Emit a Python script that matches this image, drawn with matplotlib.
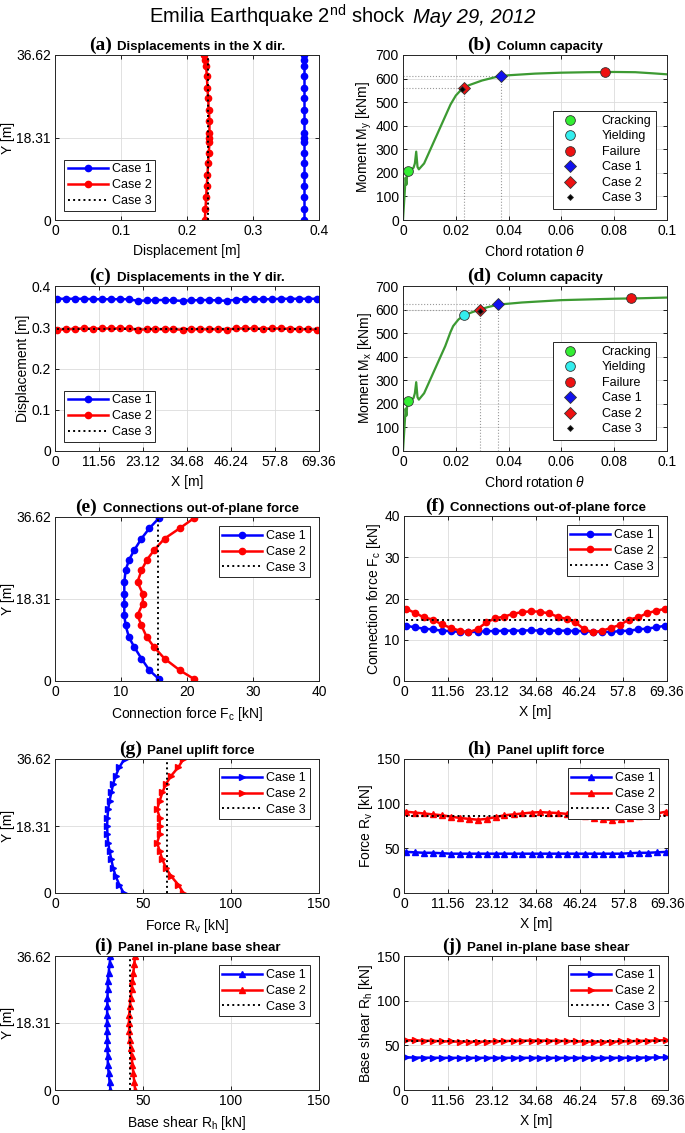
import matplotlib
matplotlib.use('Agg')
import matplotlib.pyplot as plt
from matplotlib.offsetbox import TextArea, HPacker, AnchoredOffsetbox

plt.rcParams['font.family'] = ['Liberation Sans', 'DejaVu Sans']
plt.rcParams['mathtext.fontset'] = 'custom'
plt.rcParams['mathtext.rm'] = 'Liberation Sans'
plt.rcParams['mathtext.it'] = 'Liberation Sans:italic'
plt.rcParams['mathtext.bf'] = 'Liberation Sans:bold'

# ---- data ----
y_ticks = [0, 18.31, 36.62]
x_ticks = [0, 11.56, 23.12, 34.68, 46.24, 57.8, 69.36]

# (a) displacements in X dir
ya = [0, 2.4, 5.0, 7.6, 10.0, 12.6, 14.8, 17.4, 18.3, 19.4, 22.0, 24.4, 27.0, 29.4, 32.0, 34.2, 35.6, 36.62]
a_case1 = [0.378] * 18
a_case2 = [0.227, 0.228, 0.229, 0.230, 0.231, 0.232, 0.233, 0.234, 0.234, 0.234,
           0.234, 0.233, 0.232, 0.231, 0.230, 0.229, 0.227, 0.226]
a_case3 = [0.232, 0.232]

# stations along X
xs = [0.6, 2.9, 5.3, 7.6, 10.0, 12.3, 14.7, 17.0, 19.4, 21.7, 24.1, 26.4, 28.8, 31.1, 33.5,
      35.8, 38.2, 40.5, 42.9, 45.2, 47.6, 49.9, 52.3, 54.6, 57.0, 59.3, 61.7, 64.0, 66.4, 68.8]

# (c) displacements in Y dir
c_case1 = [0.369, 0.369, 0.369, 0.369, 0.368, 0.368, 0.368, 0.368, 0.368, 0.364,
           0.365, 0.366, 0.366, 0.365, 0.364, 0.365, 0.366, 0.366, 0.365, 0.364,
           0.367, 0.368, 0.368, 0.368, 0.368, 0.369, 0.369, 0.369, 0.369, 0.369]
c_case2 = [0.294, 0.295, 0.296, 0.297, 0.296, 0.297, 0.297, 0.297, 0.297, 0.294,
           0.295, 0.295, 0.295, 0.295, 0.294, 0.295, 0.295, 0.295, 0.295, 0.294,
           0.297, 0.297, 0.297, 0.296, 0.297, 0.297, 0.296, 0.295, 0.295, 0.294]
c_case3 = [0.295, 0.295]

# (b) column capacity, My
theta_b = [0, 0.0005, 0.001, 0.0013, 0.0016, 0.002, 0.003, 0.004, 0.0045, 0.005, 0.0055,
           0.006, 0.008, 0.010, 0.012, 0.014, 0.016, 0.018, 0.020, 0.022, 0.025, 0.030,
           0.035, 0.040, 0.050, 0.060, 0.070, 0.080, 0.088, 0.095, 0.100]
mom_b = [0, 90, 180, 150, 195, 208, 212, 222, 240, 290, 225, 215, 240, 290, 340, 390,
         440, 490, 528, 552, 572, 592, 606, 614, 621, 625, 627, 628, 627, 622, 618]
b_crack = (0.002, 210)
b_fail = (0.0765, 628)
b_case1 = (0.037, 610)
b_case2 = (0.023, 562)
b_case3 = (0.0225, 557)

# (d) column capacity, Mx
theta_d = [0, 0.0005, 0.001, 0.0013, 0.0016, 0.002, 0.003, 0.004, 0.0045, 0.005, 0.0055,
           0.006, 0.008, 0.010, 0.012, 0.014, 0.016, 0.018, 0.019, 0.021, 0.023, 0.026,
           0.029, 0.032, 0.036, 0.045, 0.060, 0.070, 0.080, 0.090, 0.100]
mom_d = [0, 90, 180, 150, 195, 210, 214, 225, 245, 292, 228, 218, 245, 295, 345, 395,
         445, 505, 530, 558, 575, 588, 600, 610, 621, 630, 640, 643, 646, 648, 651]
d_crack = (0.002, 212)
d_yield = (0.023, 575)
d_fail = (0.0865, 648)
d_case1 = (0.036, 622)
d_case2 = (0.029, 600)
d_case3 = (0.029, 596)

# (e) connections out-of-plane force vs Y
ye = [0.5, 2.4, 5.0, 7.6, 9.8, 12.4, 14.7, 17.3, 19.5, 22.1, 24.7, 27.0, 29.2, 31.8, 34.1, 36.3]
e_case1 = [15.7, 14.3, 13.1, 12.0, 11.2, 10.7, 10.5, 10.5, 10.5, 10.5, 10.7, 11.2, 12.0, 13.1, 14.3, 15.7]
e_case2 = [21.0, 18.9, 16.6, 15.0, 13.9, 13.1, 12.5, 13.3, 13.3, 12.5, 13.1, 13.9, 15.0, 16.6, 18.9, 21.0]
e_case3 = [15.6, 15.6]

# (f) connections out-of-plane force vs X
f_case1 = [13.4, 13.0, 12.7, 12.5, 12.2, 12.1, 11.9, 11.9, 11.9, 12.1, 12.1, 12.2, 12.2, 12.2, 12.3,
           12.2, 12.2, 12.2, 12.2, 12.1, 12.1, 11.9, 11.9, 11.9, 12.1, 12.2, 12.5, 12.7, 13.0, 13.4]
f_case2 = [17.5, 16.5, 15.4, 14.9, 13.7, 12.9, 12.2, 11.8, 12.6, 14.2, 15.2, 15.6, 16.3, 16.7, 16.9,
           16.8, 16.4, 15.6, 15.0, 14.2, 12.5, 11.8, 12.2, 12.9, 13.6, 14.9, 15.4, 16.4, 17.0, 17.5]
f_case3 = [14.7, 14.7]

# Y stations for (g), (i)
yg = [0, 2.29, 4.58, 6.87, 9.16, 11.44, 13.73, 16.02, 18.31, 20.60, 22.89, 25.18, 27.47,
      29.75, 32.04, 34.33, 36.62]

# (g) panel uplift force vs Y
g_case1 = [39.0, 36.5, 34.5, 33.0, 32.0, 31.0, 30.2, 29.8, 29.6, 29.8, 30.2, 31.0, 32.0, 33.0, 34.5, 36.5, 39.5]
g_case2 = [73.0, 70.0, 66.0, 63.0, 61.0, 59.5, 58.0, 59.5, 59.5, 59.5, 58.0, 59.5, 61.0, 63.0, 66.0, 70.0, 73.0]
g_case3 = [63.5, 63.5]

# (h) panel uplift force vs X
h_case1 = [46, 45.5, 45, 45, 44.5, 44, 44, 44, 44, 44, 44, 44, 44, 44, 44,
           44, 44, 44, 44, 44, 44, 44, 44, 44, 44, 44.5, 45, 45, 45.5, 46]
h_case2 = [91, 90, 89, 88, 87, 85.5, 84, 83, 82, 83, 85, 87, 88, 89, 90,
           90.5, 90, 89.5, 88.5, 87.5, 86, 84, 82.5, 82, 83, 84.5, 86, 88, 89, 91]
h_case3 = [86.5, 86.5]

# (i) panel in-plane base shear vs Y
i_case1 = [31.5, 31.0, 30.5, 30.0, 30.0, 29.8, 29.7, 29.6, 29.6, 29.6, 29.7, 29.8, 30.0, 30.0, 30.5, 31.0, 31.5]
i_case2 = [45.5, 45.0, 44.5, 44.0, 43.5, 43.0, 42.5, 42.2, 42.0, 42.2, 42.5, 43.0, 43.5, 44.0, 44.5, 45.0, 45.5]
i_case3 = [42.8, 42.8]

# (j) panel in-plane base shear vs X
j_case1 = [36.5, 36.3, 36.2, 36.1, 36, 36, 36, 36, 36, 36, 36, 36, 36, 36, 36,
           36, 36, 36, 36, 36, 36, 36, 36, 36, 36, 36.1, 36.2, 36.3, 36.4, 36.5]
j_case2 = [55.8, 55.5, 55.2, 55.0, 54.6, 54.3, 54.1, 54.0, 54.0, 54.2, 54.5, 54.8, 55.0, 55.2, 55.3,
           55.3, 55.2, 55.0, 54.8, 54.5, 54.2, 54.0, 54.0, 54.1, 54.3, 54.6, 55.0, 55.2, 55.5, 55.8]
j_case3 = [54.8, 54.8]

# ---- drawing ----
W, H = 685, 1133
fig = plt.figure(figsize=(W / 100, H / 100), dpi=100)

BLUE, RED = '#0000ff', '#ff0000'
GREEN_LINE = '#3c9a32'
FS = 10      # ticks and axis labels
LFS = 9      # legend


def make_ax(l, t, r, b):
    ax = fig.add_axes([l / W, 1 - b / H, (r - l) / W, (b - t) / H])
    ax.grid(True, color='#dcdcdc', lw=0.6)
    ax.set_axisbelow(True)
    for s in ax.spines.values():
        s.set_linewidth(0.7)
        s.set_color('#262626')
    ax.tick_params(direction='in', length=3, width=0.6, labelsize=FS, top=True, right=True, pad=3)
    return ax


def panel_title(ax, letter, text):
    box = HPacker(children=[
        TextArea(letter, textprops=dict(family='Liberation Serif', weight='bold', size=14)),
        TextArea(text, textprops=dict(weight='bold', size=9.5))],
        align='baseline', pad=0, sep=4)
    ab = AnchoredOffsetbox(loc='lower center', child=box, pad=0, frameon=False,
                           bbox_to_anchor=(0.5, 1.0), bbox_transform=ax.transAxes, borderpad=0.1)
    ax.add_artist(ab)


def legend(ax, loc):
    lg = ax.legend(loc=loc, fontsize=LFS, fancybox=False, edgecolor='#262626', framealpha=1,
                   handlelength=3.2, borderpad=0.3, labelspacing=0.3, handletextpad=0.3,
                   borderaxespad=0.75)
    lg.get_frame().set_linewidth(0.7)


lw = 1.8
ms = 4.5

# (a)
ax = make_ax(55, 55, 319, 220)
ax.plot(a_case1, ya, '-o', color=BLUE, lw=lw, ms=ms, label='Case 1')
ax.plot(a_case2, ya, '-o', color=RED, lw=lw, ms=ms, label='Case 2')
ax.plot(a_case3, [ya[0], ya[-1]], ':', color='k', lw=1.4, label='Case 3')
ax.set_xlim(0, 0.4)
ax.set_ylim(0, 36.62)
ax.set_yticks(y_ticks)
ax.set_yticklabels(['0', '18.31', '36.62'])
ax.set_xticks([0, 0.1, 0.2, 0.3, 0.4])
ax.set_xticklabels(['0', '0.1', '0.2', '0.3', '0.4'])
ax.set_xlabel('Displacement [m]', fontsize=FS)
ax.set_ylabel('Y [m]', fontsize=FS, labelpad=1)
panel_title(ax, '(a)', 'Displacements in the X dir.')
legend(ax, 'lower left')


def capacity(ax, letter, theta, mom, crack, yld, fail, c1, c2, c3, mlabel):
    ax.plot(theta, mom, '-', color=GREEN_LINE, lw=1.6, zorder=2)
    for c in (c1, c2):
        ax.plot([c[0], c[0]], [0, c[1]], ':', color='#999999', lw=0.8, zorder=1)
        ax.plot([0, c[0]], [c[1], c[1]], ':', color='#999999', lw=0.8, zorder=1)
    mk = dict(ls='none', mec='#333333', mew=0.6, zorder=3)
    ax.plot(*crack, 'o', color='#33ee33', ms=7, label='Cracking', **mk)
    if yld is not None:
        ax.plot(*yld, 'o', color='#33eeee', ms=7, label='Yielding', **mk)
    else:
        ax.plot([], [], 'o', color='#33eeee', ms=7, label='Yielding', **mk)
    ax.plot(*fail, 'o', color='#ee1111', ms=7, label='Failure', **mk)
    ax.plot(*c1, 'D', color='#1111ee', ms=6, label='Case 1', **mk)
    ax.plot(*c2, 'D', color='#ee1111', ms=6, label='Case 2', **mk)
    ax.plot(*c3, 'D', color='k', ms=3, label='Case 3', **mk)
    ax.set_xlim(0, 0.1)
    ax.set_ylim(0, 700)
    ax.set_xticks([0, 0.02, 0.04, 0.06, 0.08, 0.1])
    ax.set_xticklabels(['0', '0.02', '0.04', '0.06', '0.08', '0.1'])
    ax.set_yticks(range(0, 701, 100))
    ax.set_xlabel(r'Chord rotation $\theta$', fontsize=FS)
    ax.set_ylabel(mlabel, fontsize=FS, labelpad=1)
    panel_title(ax, letter, 'Column capacity')
    lg = ax.legend(loc='lower right', fontsize=LFS, fancybox=False, edgecolor='#262626',
                   framealpha=1, handlelength=2.0, borderpad=0.35, labelspacing=0.28,
                   handletextpad=1.5, borderaxespad=0.9)
    lg.get_frame().set_linewidth(0.7)


# (b)
ax = make_ax(403, 55, 667, 220)
capacity(ax, '(b)', theta_b, mom_b, b_crack, None, b_fail, b_case1, b_case2, b_case3,
         r'Moment M$_\mathregular{y}$ [kNm]')

# (c)
ax = make_ax(55, 286, 319, 451)
ax.plot(xs, c_case1, '-o', color=BLUE, lw=lw, ms=ms, label='Case 1')
ax.plot(xs, c_case2, '-o', color=RED, lw=lw, ms=ms, label='Case 2')
ax.plot([xs[0], xs[-1]], c_case3, ':', color='k', lw=1.4, label='Case 3')
ax.set_xlim(0, 69.36)
ax.set_ylim(0, 0.4)
ax.set_xticks(x_ticks)
ax.set_xticklabels(['0', '11.56', '23.12', '34.68', '46.24', '57.8', '69.36'])
ax.set_yticks([0, 0.1, 0.2, 0.3, 0.4])
ax.set_yticklabels(['0', '0.1', '0.2', '0.3', '0.4'])
ax.set_xlabel('X [m]', fontsize=FS)
ax.set_ylabel('Displacement [m]', fontsize=FS, labelpad=1)
panel_title(ax, '(c)', 'Displacements in the Y dir.')
legend(ax, 'lower left')

# (d)
ax = make_ax(403, 286, 667, 451)
capacity(ax, '(d)', theta_d, mom_d, d_crack, d_yield, d_fail, d_case1, d_case2, d_case3,
         r'Moment M$_\mathregular{x}$ [kNm]')

# (e)
ax = make_ax(55, 517, 319, 681)
ax.plot(e_case1, ye, '-o', color=BLUE, lw=lw, ms=ms, label='Case 1')
ax.plot(e_case2, ye, '-o', color=RED, lw=lw, ms=ms, label='Case 2')
ax.plot(e_case3, [0, 36.62], ':', color='k', lw=1.4, label='Case 3')
ax.set_xlim(0, 40)
ax.set_ylim(0, 36.62)
ax.set_yticks(y_ticks)
ax.set_yticklabels(['0', '18.31', '36.62'])
ax.set_xticks([0, 10, 20, 30, 40])
ax.set_xlabel(r'Connection force F$_\mathregular{c}$ [kN]', fontsize=FS)
ax.set_ylabel('Y [m]', fontsize=FS, labelpad=1)
panel_title(ax, '(e)', 'Connections out-of-plane force')
legend(ax, 'upper right')

# (f)
ax = make_ax(404, 516, 667, 681)
ax.plot(xs, f_case1, '-o', color=BLUE, lw=lw, ms=ms, label='Case 1')
ax.plot(xs, f_case2, '-o', color=RED, lw=lw, ms=ms, label='Case 2')
ax.plot([xs[0], xs[-1]], f_case3, ':', color='k', lw=1.4, label='Case 3')
ax.set_xlim(0, 69.36)
ax.set_ylim(0, 40)
ax.set_xticks(x_ticks)
ax.set_xticklabels(['0', '11.56', '23.12', '34.68', '46.24', '57.8', '69.36'])
ax.set_yticks([0, 10, 20, 30, 40])
ax.set_xlabel('X [m]', fontsize=FS)
ax.set_ylabel(r'Connection force F$_\mathregular{c}$ [kN]', fontsize=FS, labelpad=1)
panel_title(ax, '(f)', 'Connections out-of-plane force')
legend(ax, 'upper right')

# (g)
ax = make_ax(55, 759, 319, 893)
ax.plot(g_case1, yg, '->', color=BLUE, lw=lw, ms=ms, label='Case 1')
ax.plot(g_case2, yg, '->', color=RED, lw=lw, ms=ms, label='Case 2')
ax.plot(g_case3, [0, 36.62], ':', color='k', lw=1.4, label='Case 3')
ax.set_xlim(0, 150)
ax.set_ylim(0, 36.62)
ax.set_yticks(y_ticks)
ax.set_yticklabels(['0', '18.31', '36.62'])
ax.set_xticks([0, 50, 100, 150])
ax.set_xlabel(r'Force R$_\mathregular{v}$ [kN]', fontsize=FS)
ax.set_ylabel('Y [m]', fontsize=FS, labelpad=1)
panel_title(ax, '(g)', 'Panel uplift force')
legend(ax, 'upper right')

# (h)
ax = make_ax(404, 759, 668, 893)
ax.plot(xs, h_case1, '-^', color=BLUE, lw=lw, ms=ms, label='Case 1')
ax.plot(xs, h_case2, '-^', color=RED, lw=lw, ms=ms, label='Case 2')
ax.plot([xs[0], xs[-1]], h_case3, ':', color='k', lw=1.4, label='Case 3')
ax.set_xlim(0, 69.36)
ax.set_ylim(0, 150)
ax.set_xticks(x_ticks)
ax.set_xticklabels(['0', '11.56', '23.12', '34.68', '46.24', '57.8', '69.36'])
ax.set_yticks([0, 50, 100, 150])
ax.set_xlabel('X [m]', fontsize=FS)
ax.set_ylabel(r'Force R$_\mathregular{v}$ [kN]', fontsize=FS, labelpad=1)
panel_title(ax, '(h)', 'Panel uplift force')
legend(ax, 'upper right')

# (i)
ax = make_ax(55, 956, 319, 1090)
ax.plot(i_case1, yg, '-^', color=BLUE, lw=lw, ms=ms, label='Case 1')
ax.plot(i_case2, yg, '-^', color=RED, lw=lw, ms=ms, label='Case 2')
ax.plot(i_case3, [0, 36.62], ':', color='k', lw=1.4, label='Case 3')
ax.set_xlim(0, 150)
ax.set_ylim(0, 36.62)
ax.set_yticks(y_ticks)
ax.set_yticklabels(['0', '18.31', '36.62'])
ax.set_xticks([0, 50, 100, 150])
ax.set_xlabel(r'Base shear R$_\mathregular{h}$ [kN]', fontsize=FS)
ax.set_ylabel('Y [m]', fontsize=FS, labelpad=1)
panel_title(ax, '(i)', 'Panel in-plane base shear')
legend(ax, 'upper right')

# (j)
ax = make_ax(404, 956, 668, 1090)
ax.plot(xs, j_case1, '->', color=BLUE, lw=lw, ms=ms, label='Case 1')
ax.plot(xs, j_case2, '->', color=RED, lw=lw, ms=ms, label='Case 2')
ax.plot([xs[0], xs[-1]], j_case3, ':', color='k', lw=1.4, label='Case 3')
ax.set_xlim(0, 69.36)
ax.set_ylim(0, 150)
ax.set_xticks(x_ticks)
ax.set_xticklabels(['0', '11.56', '23.12', '34.68', '46.24', '57.8', '69.36'])
ax.set_yticks([0, 50, 100, 150])
ax.set_xlabel('X [m]', fontsize=FS)
ax.set_ylabel(r'Base shear R$_\mathregular{h}$ [kN]', fontsize=FS, labelpad=1)
panel_title(ax, '(j)', 'Panel in-plane base shear')
legend(ax, 'upper right')

# figure title, with italic date
title_box = HPacker(children=[
    TextArea(r'Emilia Earthquake 2$^\mathregular{nd}$ shock', textprops=dict(size=14.5)),
    TextArea('May 29, 2012', textprops=dict(size=14.5, style='italic'))],
    align='baseline', pad=0, sep=5)
fig.add_artist(AnchoredOffsetbox(loc='center', child=title_box, pad=0, frameon=False,
                                 bbox_to_anchor=(0.5, 1 - 16 / H),
                                 bbox_transform=fig.transFigure, borderpad=0))

fig.savefig('out.png', dpi=100)
